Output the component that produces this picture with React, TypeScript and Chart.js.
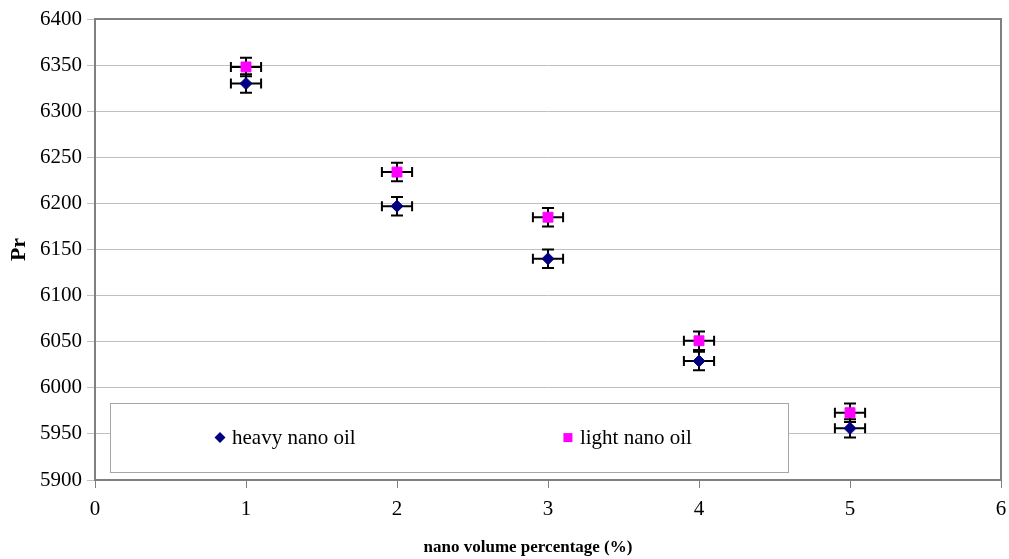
import React, { useEffect, useRef } from "react";
import { Chart, registerables } from "chart.js";

Chart.register(...registerables);

const categories = [1, 2, 3, 4, 5];
const heavyValues = [6330, 6197, 6140, 6029, 5956];
const lightValues = [6348, 6234, 6185, 6051, 5973];
const xError = [0.1, 0.1, 0.1, 0.1, 0.1];
const yError = [10, 10, 10, 10, 10];
const seriesNames = ["heavy nano oil", "light nano oil"];
const xTicks = [0, 1, 2, 3, 4, 5, 6];
const xTitle = "nano volume percentage (%)";
const yTitle = "Pr";

const FONT = "'Liberation Serif', 'Times New Roman', serif";

const errorBarPlugin = {
  id: "errorBars",
  beforeDatasetsDraw(chart: any) {
    const { ctx, chartArea } = chart;
    const xs = chart.scales.x;
    const ys = chart.scales.y;
    const w = chartArea.right - chartArea.left;
    const h = chartArea.bottom - chartArea.top;
    ctx.save();
    // plot border
    ctx.strokeStyle = "#808080";
    ctx.lineWidth = 2;
    ctx.beginPath();
    ctx.moveTo(chartArea.left, chartArea.top);
    ctx.lineTo(chartArea.right, chartArea.top);
    ctx.lineTo(chartArea.right, chartArea.bottom);
    ctx.stroke();
    // legend box
    const lx = chartArea.left + 0.0165 * w;
    const rx = chartArea.left + 0.765 * w;
    const ty = chartArea.top + 0.833 * h;
    const by = chartArea.top + 0.983 * h;
    ctx.fillStyle = "#ffffff";
    ctx.fillRect(lx, ty, rx - lx, by - ty);
    ctx.strokeStyle = "#a6a6a6";
    ctx.lineWidth = 1;
    ctx.strokeRect(Math.round(lx) + 0.5, Math.round(ty) + 0.5, Math.round(rx - lx), Math.round(by - ty));
    const cy = (ty + by) / 2;
    const markX = [chartArea.left + 0.138 * w, chartArea.left + 0.522 * w];
    chart.data.datasets.forEach((ds: any, i: number) => {
      const mx = markX[i];
      ctx.fillStyle = ds.backgroundColor;
      ctx.beginPath();
      if (ds.pointStyle === "rectRot") {
        const r = 5.5;
        ctx.moveTo(mx, cy - r);
        ctx.lineTo(mx + r, cy);
        ctx.lineTo(mx, cy + r);
        ctx.lineTo(mx - r, cy);
        ctx.closePath();
      } else {
        ctx.rect(mx - 4.5, cy - 4.5, 9, 9);
      }
      ctx.fill();
      ctx.fillStyle = "#000000";
      ctx.font = `21px ${FONT}`;
      ctx.textBaseline = "middle";
      ctx.textAlign = "left";
      ctx.fillText(ds.label, mx + 12, cy + 1);
    });
    // error bars
    ctx.strokeStyle = "#000000";
    ctx.lineWidth = 2;
    chart.data.datasets.forEach((ds: any) => {
      ds.data.forEach((p: any, j: number) => {
        const cx = xs.getPixelForValue(p.x);
        const py = ys.getPixelForValue(p.y);
        const x0 = xs.getPixelForValue(p.x - xError[j]);
        const x1 = xs.getPixelForValue(p.x + xError[j]);
        const y0 = ys.getPixelForValue(p.y - yError[j]);
        const y1 = ys.getPixelForValue(p.y + yError[j]);
        ctx.beginPath();
        ctx.moveTo(x0, py);
        ctx.lineTo(x1, py);
        ctx.moveTo(x0, py - 5);
        ctx.lineTo(x0, py + 5);
        ctx.moveTo(x1, py - 5);
        ctx.lineTo(x1, py + 5);
        ctx.moveTo(cx, y0);
        ctx.lineTo(cx, y1);
        ctx.moveTo(cx - 6, y0);
        ctx.lineTo(cx + 6, y0);
        ctx.moveTo(cx - 6, y1);
        ctx.lineTo(cx + 6, y1);
        ctx.stroke();
      });
    });
    ctx.restore();
  },
  afterDraw(chart: any) {
    const { ctx } = chart;
    ctx.save();
    ctx.fillStyle = "#000000";
    ctx.font = `bold 17px ${FONT}`;
    ctx.textAlign = "center";
    ctx.textBaseline = "middle";
    ctx.fillText(xTitle, 528, 548);
    ctx.restore();
  },
};

export default function App() {
  const ref = useRef<HTMLCanvasElement | null>(null);
  useEffect(() => {
    if (!ref.current) return;
    const chart = new Chart(ref.current, {
      type: "scatter",
      data: {
        datasets: [
          {
            label: seriesNames[0],
            data: categories.map((x, i) => ({ x, y: heavyValues[i] })),
            backgroundColor: "#000080",
            borderColor: "#000080",
            pointStyle: "rectRot",
            pointRadius: 6,
            pointHoverRadius: 6,
          },
          {
            label: seriesNames[1],
            data: categories.map((x, i) => ({ x, y: lightValues[i] })),
            backgroundColor: "#ff00ff",
            borderColor: "#ff00ff",
            pointStyle: "rect",
            pointRadius: 7,
            pointHoverRadius: 7,
          },
        ],
      },
      options: {
        animation: false,
        responsive: false,
        maintainAspectRatio: false,
        layout: { padding: { left: 0, top: 19, right: 5, bottom: 0 } },
        plugins: { legend: { display: false }, tooltip: { enabled: false } },
        scales: {
          x: {
            type: "linear",
            min: 0,
            max: 6,
            afterFit: (s: any) => {
              s.height = 79;
              s.paddingLeft = 0;
              s.paddingRight = 0;
            },
            afterBuildTicks: (s: any) => {
              s.ticks = xTicks.map((v) => ({ value: v }));
            },
            grid: {
              drawOnChartArea: false,
              drawTicks: true,
              tickLength: 8,
              color: "#808080",
              lineWidth: 1,
            },
            border: { color: "#808080", width: 2 },
            ticks: {
              color: "#000000",
              font: { family: FONT, size: 21 },
              padding: 9,
              maxRotation: 0,
            },
          },
          y: {
            min: 5900,
            max: 6400,
            afterFit: (s: any) => {
              s.width = 95;
            },
            grid: {
              color: "#c0c0c0",
              lineWidth: 1,
              tickLength: 8,
              drawTicks: true,
            },
            border: { color: "#808080", width: 2 },
            ticks: {
              stepSize: 50,
              color: "#000000",
              font: { family: FONT, size: 21 },
              padding: 5,
              callback: (v: any) => String(v),
            },
            title: {
              display: true,
              text: yTitle,
              color: "#000000",
              font: { family: FONT, size: 22, weight: "bold" },
              padding: { top: 6, bottom: 0 },
            },
          },
        },
      },
      plugins: [errorBarPlugin],
    });
    return () => chart.destroy();
  }, []);
  return (
    <div style={{ position: "absolute", left: 0, top: 0, width: 1009, height: 559, background: "#fff" }}>
      <canvas ref={ref} width={1009} height={559} style={{ width: 1009, height: 559 }} />
    </div>
  );
}
